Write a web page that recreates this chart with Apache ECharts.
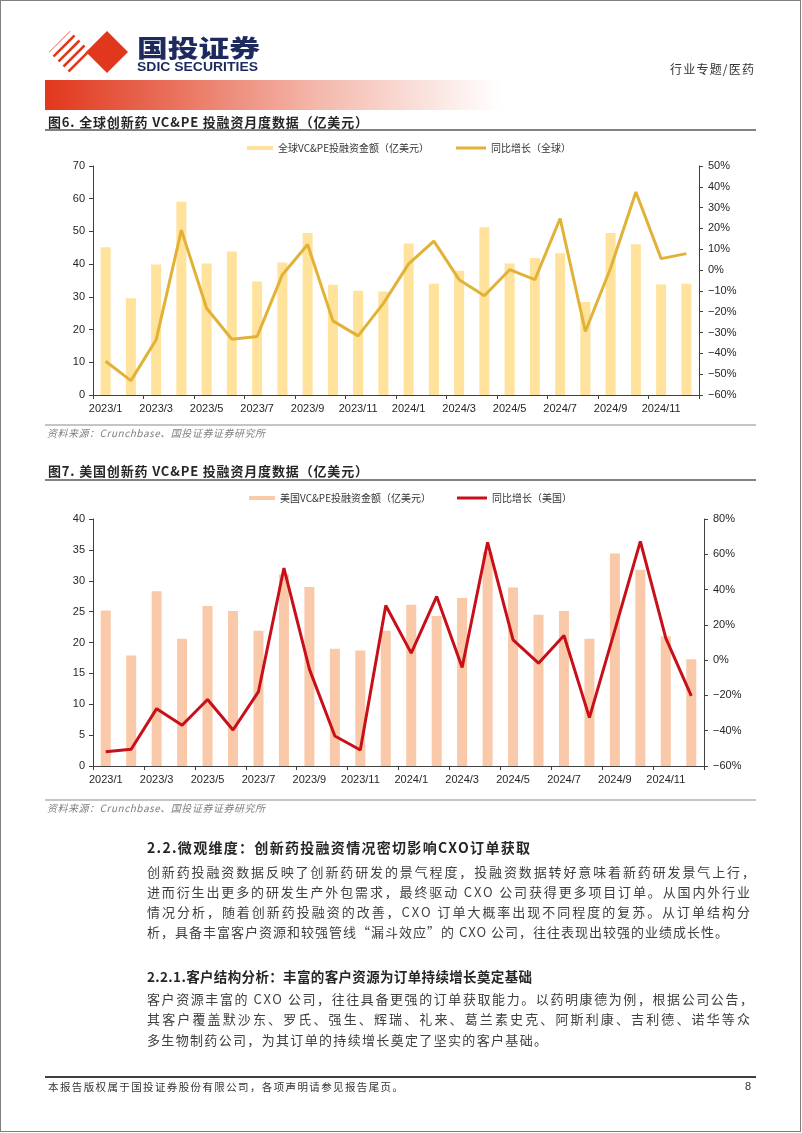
<!DOCTYPE html>
<html><head><meta charset="utf-8">
<script src="https://cdn.jsdelivr.net/npm/echarts@6/dist/echarts.min.js"></script>
<style>
html,body{margin:0;padding:0;background:#fff;}
#page{position:relative;width:802px;height:1133px;overflow:hidden;background:#fff;}
.chart{position:absolute;left:0;width:802px;}
#ov{position:absolute;left:0;top:0;}
</style></head>
<body><div id="page">
<div id="c1" class="chart" style="top:135px;height:290px;"></div>
<div id="c2" class="chart" style="top:485px;height:315px;"></div>
<svg id="ov" width="802" height="1133" xmlns="http://www.w3.org/2000/svg">
<defs>
<linearGradient id="hg" x1="0" x2="1" y1="0" y2="0">
<stop offset="0" stop-color="#e1371d"/><stop offset="0.25" stop-color="#e86a54"/><stop offset="0.6" stop-color="#f4b8ac"/><stop offset="1" stop-color="#ffffff"/>
</linearGradient>
<clipPath id="dclip"><polygon points="70,31 91,52 70,73 49,52"/></clipPath>
</defs>
<rect x="0.5" y="0.5" width="800" height="1131" fill="none" stroke="#7f7f7f" stroke-width="1"/>
<!-- logo -->
<g clip-path="url(#dclip)" stroke="#e1371d" stroke-width="2.6">
<line x1="30" y1="60" x2="70" y2="20"/><line x1="35" y1="65" x2="75" y2="25"/><line x1="40" y1="70" x2="80" y2="30"/><line x1="45" y1="75" x2="85" y2="35"/><line x1="50" y1="80" x2="90" y2="40"/><line x1="55" y1="85" x2="95" y2="45"/><line x1="60" y1="90" x2="100" y2="50"/><line x1="65" y1="95" x2="105" y2="55"/><line x1="70" y1="100" x2="110" y2="60"/><line x1="75" y1="105" x2="115" y2="65"/>
</g>
<polygon points="107,31 128,52 107,73 86,52" fill="#e1371d"/>
<text x="137" y="46" dominant-baseline="central" font-family="Noto Sans CJK SC" font-weight="900" font-size="24" fill="#1d2a5d" textLength="123" lengthAdjust="spacingAndGlyphs">国投证券</text>
<text x="137" y="67" dominant-baseline="central" font-family="Liberation Sans" font-weight="700" font-size="12" fill="#1d2a5d" textLength="121" lengthAdjust="spacingAndGlyphs">SDIC SECURITIES</text>
<text x="670" y="68" dominant-baseline="central" font-family="Noto Sans CJK SC" font-size="12" fill="#333" textLength="84" lengthAdjust="spacing">行业专题/医药</text>
<rect x="45" y="80" width="455" height="30" fill="url(#hg)"/>
<!-- figure 6 title -->
<text x="48" y="121" dominant-baseline="central" font-family="Noto Sans CJK SC" font-weight="700" font-size="13" fill="#262626" textLength="320" lengthAdjust="spacing">图6. 全球创新药 VC&amp;PE 投融资月度数据（亿美元）</text>
<line x1="45" y1="130" x2="756" y2="130" stroke="#595959" stroke-width="1.5"/>
<line x1="45" y1="425" x2="756" y2="425" stroke="#8c8c8c" stroke-width="1.2"/>
<text x="47" y="432" dominant-baseline="central" font-family="Noto Sans CJK SC" font-style="italic" font-size="10" fill="#7f7f7f" textLength="218" lengthAdjust="spacing">资料来源：Crunchbase、国投证券证券研究所</text>
<!-- figure 7 title -->
<text x="48" y="470" dominant-baseline="central" font-family="Noto Sans CJK SC" font-weight="700" font-size="13" fill="#262626" textLength="320" lengthAdjust="spacing">图7. 美国创新药 VC&amp;PE 投融资月度数据（亿美元）</text>
<line x1="45" y1="480" x2="756" y2="480" stroke="#595959" stroke-width="1.5"/>
<line x1="45" y1="800" x2="756" y2="800" stroke="#8c8c8c" stroke-width="1.2"/>
<text x="47" y="807" dominant-baseline="central" font-family="Noto Sans CJK SC" font-style="italic" font-size="10" fill="#7f7f7f" textLength="218" lengthAdjust="spacing">资料来源：Crunchbase、国投证券证券研究所</text>
<!-- body text -->
<g font-family="Noto Sans CJK SC" dominant-baseline="central">
<text x="147" y="847" font-weight="700" font-size="14" fill="#262626" textLength="383" lengthAdjust="spacing">2.2.微观维度：创新药投融资情况密切影响CXO订单获取</text>
<g font-size="13" fill="#404040">
<text x="147" y="871" textLength="608" lengthAdjust="spacing">创新药投融资数据反映了创新药研发的景气程度，投融资数据转好意味着新药研发景气上行，</text>
<text x="147" y="891" textLength="603" lengthAdjust="spacing">进而衍生出更多的研发生产外包需求，最终驱动 CXO 公司获得更多项目订单。从国内外行业</text>
<text x="147" y="911" textLength="603" lengthAdjust="spacing">情况分析，随着创新药投融资的改善，CXO 订单大概率出现不同程度的复苏。从订单结构分</text>
<text x="147" y="931" textLength="581" lengthAdjust="spacing">析，具备丰富客户资源和较强管线“漏斗效应”的 CXO 公司，往往表现出较强的业绩成长性。</text>
</g>
<text x="147" y="976" font-weight="700" font-size="13.5" fill="#262626" textLength="385" lengthAdjust="spacing">2.2.1.客户结构分析：丰富的客户资源为订单持续增长奠定基础</text>
<g font-size="13" fill="#404040">
<text x="147" y="998" textLength="606" lengthAdjust="spacing">客户资源丰富的 CXO 公司，往往具备更强的订单获取能力。以药明康德为例，根据公司公告，</text>
<text x="147" y="1018" textLength="603" lengthAdjust="spacing">其客户覆盖默沙东、罗氏、强生、辉瑞、礼来、葛兰素史克、阿斯利康、吉利德、诺华等众</text>
<text x="147" y="1039" textLength="400" lengthAdjust="spacing">多生物制药公司，为其订单的持续增长奠定了坚实的客户基础。</text>
</g>
</g>
<!-- footer -->
<line x1="45" y1="1077" x2="756" y2="1077" stroke="#404040" stroke-width="2"/>
<text x="48" y="1086" dominant-baseline="central" font-family="Noto Sans CJK SC" font-size="10.5" fill="#333" textLength="355" lengthAdjust="spacing">本报告版权属于国投证券股份有限公司，各项声明请参见报告尾页。</text>
<text x="745" y="1086" dominant-baseline="central" font-family="Liberation Sans" font-size="11" fill="#333">8</text>
</svg>
</div>
<script>
// ---- data ----
const months = ['2023/1','2023/2','2023/3','2023/4','2023/5','2023/6','2023/7','2023/8','2023/9','2023/10','2023/11','2023/12',
                '2024/1','2024/2','2024/3','2024/4','2024/5','2024/6','2024/7','2024/8','2024/9','2024/10','2024/11','2024/12'];
const globalAmount = [45.2,29.6,39.9,59.1,40.2,43.9,34.7,40.5,49.5,33.7,31.9,31.6,46.3,34.0,38.0,51.3,40.2,41.9,43.3,28.4,49.5,46.1,33.8,34.0];
const globalYoY = [-43.8,-53.1,-33.5,19.2,-18.3,-33.2,-31.9,-2.2,12.3,-24.4,-31.6,-16,3,13.9,-4.6,-12.3,0.2,-4.6,24.8,-29.5,1.0,37.5,5.5,7.9];
const usAmount = [25.2,17.9,28.3,20.6,25.9,25.1,21.9,31.0,29.0,19.0,18.7,21.9,26.1,24.3,27.2,34.6,28.9,24.5,25.1,20.6,34.4,31.8,21.0,17.3];
const usYoY = [-51.9,-50.5,-27.5,-36.9,-22.3,-39.6,-17.8,52.2,-5.1,-43.0,-50.9,31.0,4.0,36.1,-4.2,66.8,11.5,-1.7,14.0,-32.6,17.2,67.3,12.5,-20.3];
const globalBarName = '全球VC&PE投融资金额（亿美元）';
const globalLineName = '同比增长（全球）';
const usBarName = '美国VC&PE投融资金额（亿美元）';
const usLineName = '同比增长（美国）';
const leftAxis1 = {min:0, max:70, interval:10};
const rightAxis1 = {min:-60, max:50, interval:10};
const leftAxis2 = {min:0, max:40, interval:5};
const rightAxis2 = {min:-60, max:80, interval:20};

// ---- builders ----
const AX = '#404040';
const pct = v => (v < 0 ? '\u2212' + Math.abs(v) : '' + v) + '%';
function yAx(r, pos, fmt){
  return {type:'value', position:pos, min:r.min, max:r.max, interval:r.interval,
    axisLine:{show:true, lineStyle:{color:AX, width:1}},
    axisTick:{show:true, length:4, lineStyle:{color:AX}},
    splitLine:{show:false},
    axisLabel:{color:'#262626', fontSize:11, fontFamily:'Liberation Sans', margin:pos==='left'?8:9, formatter:fmt}};
}
function build(el, o){
  const ch = echarts.init(document.getElementById(el), null, {renderer:'canvas'});
  const legText = {color:'#333', fontSize:10, fontFamily:'Noto Sans CJK SC'};
  ch.setOption({
    animation:false,
    grid:{left:93, right:o.right, top:o.top, bottom:o.bottom, containLabel:false, outerBoundsMode:'none'},
    legend:[
      {data:[{name:o.barName, icon:'rect'}], left:o.leg1, top:o.legTop, itemWidth:26, itemHeight:4, textStyle:legText, selectedMode:false},
      {data:[{name:o.lineName, icon:'rect'}], left:o.leg2, top:o.legTop, itemWidth:30, itemHeight:3, textStyle:legText, selectedMode:false}
    ],
    xAxis:{type:'category', data:months, boundaryGap:true,
      axisLine:{show:true, lineStyle:{color:AX}},
      axisTick:{show:true, interval:1, length:4, alignWithLabel:false, lineStyle:{color:AX}},
      axisLabel:{interval:1, color:'#262626', fontSize:11, fontFamily:'Liberation Sans', margin:8}},
    yAxis:[yAx(o.l, 'left', v => '' + v), yAx(o.r, 'right', pct)],
    series:[
      {name:o.barName, type:'bar', data:o.bars, barWidth:10, itemStyle:{color:o.barColor}, yAxisIndex:0},
      {name:o.lineName, type:'line', data:o.line, yAxisIndex:1, symbol:'none', smooth:false,
        lineStyle:{color:o.lineColor, width:3}, itemStyle:{color:o.lineColor}, z:5}
    ]
  });
}
build('c1', {right:103, top:31, bottom:30, legTop:3, leg1:242, leg2:451,
  barName:globalBarName, lineName:globalLineName, bars:globalAmount, line:globalYoY,
  l:leftAxis1, r:rightAxis1, barColor:'#FFE29B', lineColor:'#E2B236'});
build('c2', {right:98, top:34, bottom:34, legTop:3, leg1:244, leg2:452,
  barName:usBarName, lineName:usLineName, bars:usAmount, line:usYoY,
  l:leftAxis2, r:rightAxis2, barColor:'#F9C9A9', lineColor:'#C7101A'});
</script>
</body></html>
